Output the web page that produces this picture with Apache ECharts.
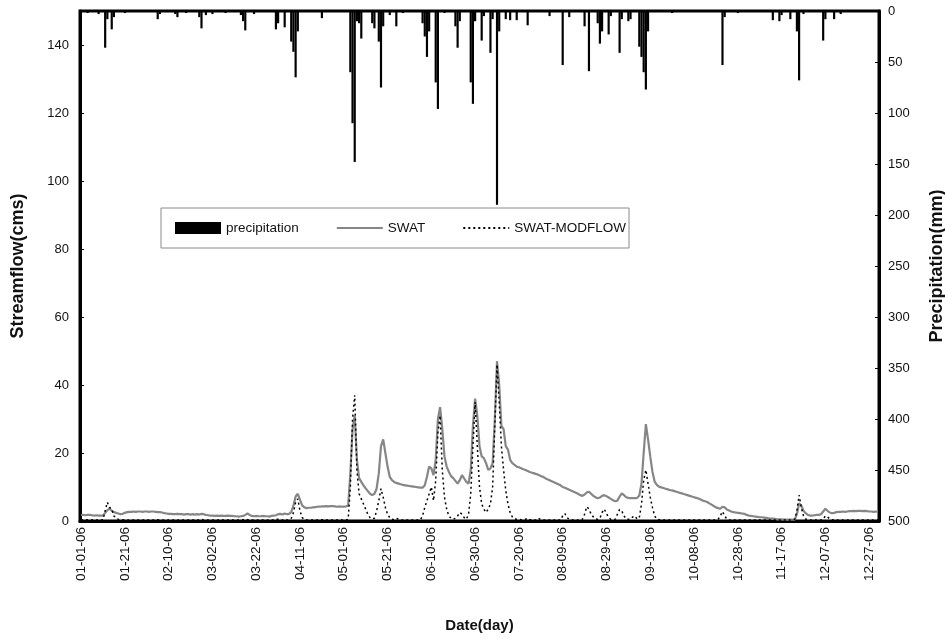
<!DOCTYPE html>
<html>
<head>
<meta charset="utf-8">
<script src="https://cdn.jsdelivr.net/npm/echarts@6/dist/echarts.min.js"></script>
<style>
html,body{margin:0;padding:0;background:#fff;overflow:hidden;}
#chart{width:945px;height:639px;}
</style>
</head>
<body>
<div id="chart"></div>
<script>
// Year 2006, daily values (day index 0 = 01-01-06)
const year = 2006;
const tickEvery = 20;

// Precipitation events [dayIndex, mm]; all other days read as 0
const precipEvents = [
  [3,2],[8,3],[11,36],[12,8],[14,18],[15,6],[20,2],[35,8],[36,3],[43,3],[44,6],[48,2],
  [54,6],[55,17],[57,4],[60,3],[66,2],[73,4],[74,10],[75,19],[79,3],[89,18],[90,12],
  [93,16],[96,30],[97,40],[98,65],[99,20],[110,7],[123,60],[124,110],[125,148],[126,10],
  [127,12],[128,27],[133,12],[134,17],[136,30],[137,75],[138,15],[141,4],[144,15],[147,2],
  [156,12],[157,25],[158,45],[159,20],[162,70],[163,96],[166,2],[171,15],[172,36],[173,10],
  [178,70],[179,91],[180,10],[183,29],[184,5],[187,41],[188,8],[190,190],[191,20],[194,8],
  [196,9],[199,9],[204,14],[214,5],[220,53],[223,6],[230,15],[232,59],[236,12],[237,32],
  [238,20],[241,23],[242,5],[246,41],[247,8],[250,10],[251,8],[255,35],[256,45],[257,60],
  [258,77],[259,20],[270,2],[293,53],[294,6],[300,2],[316,9],[319,10],[320,4],[324,8],
  [327,20],[328,68],[330,3],[339,29],[340,8],[344,8],[347,3]
];

// SWAT simulated streamflow (cms)
const swat = [
  1.8,1.8,1.7,1.8,1.8,1.7,1.6,1.7,1.6,1.6,
  1.6,2.4,3.2,3.6,3.0,2.6,2.4,2.2,2.0,2.1,
  2.4,2.6,2.7,2.7,2.8,2.7,2.8,2.8,2.7,2.8,
  2.8,2.7,2.8,2.8,2.7,2.6,2.6,2.5,2.3,2.2,
  2.1,2.1,2.0,2.0,2.1,2.0,2.0,1.9,2.0,2.0,
  1.9,2.0,1.9,2.0,1.9,2.1,2.0,1.8,1.7,1.6,
  1.6,1.5,1.6,1.5,1.6,1.5,1.5,1.6,1.5,1.5,
  1.4,1.4,1.3,1.4,1.5,1.8,2.2,1.8,1.5,1.4,
  1.5,1.4,1.4,1.5,1.4,1.4,1.3,1.5,1.6,1.7,
  2.0,2.1,1.9,2.2,2.0,2.1,2.6,4.5,7.2,8.0,
  6.2,4.6,4.0,3.8,3.9,3.9,4.0,4.1,4.2,4.2,
  4.3,4.3,4.4,4.3,4.4,4.4,4.3,4.2,4.3,4.2,
  4.2,4.3,4.5,14,27,31,18,12.6,11.5,10.5,
  9.6,8.8,8.0,7.6,8.0,9.5,14,22,24,20,
  16,13,12,11.5,11.2,11,10.8,10.6,10.5,10.4,
  10.3,10.2,10.1,10.0,9.9,9.8,9.8,10.5,13,16,
  15.5,13.5,18,30,33.5,27,19,16,14.5,13.2,
  12.6,11.8,11,12,13.5,12.5,11.5,11,15,28,
  36,31,22,19,18.5,17,15,15.5,17,30,
  47,40,28,27,22,21,18,17,16.5,16,
  15.8,15.5,15.2,15,14.7,14.4,14.2,14,13.8,13.5,
  13.2,13,12.6,12.3,12,11.7,11.4,11.1,10.8,10.5,
  10.0,9.8,9.5,9.2,8.9,8.6,8.3,8.0,7.6,7.4,
  7.8,8.4,8.6,8.0,7.4,7.0,6.7,6.9,7.4,7.6,
  7.3,6.9,6.5,6.1,5.8,6.0,7.2,8.1,7.6,7.0,
  6.8,6.7,6.7,6.7,6.8,7.5,11,20,28.5,24,
  19,14.5,11.6,10.6,10.1,9.9,9.7,9.5,9.3,9.1,
  9,8.8,8.6,8.4,8.2,8,7.8,7.6,7.4,7.2,
  7.0,6.8,6.6,6.3,6.0,5.8,5.6,5.2,4.8,4.4,
  4.0,3.8,3.6,4.2,4.0,3.4,3.1,2.8,2.6,2.5,
  2.4,2.3,2.2,2.1,1.8,1.6,1.5,1.4,1.3,1.2,
  1.1,1.1,1.0,0.9,0.8,0.7,0.7,0.6,0.5,0.5,
  0.5,0.4,0.4,0.4,0.4,0.4,0.4,2.0,5.2,4.5,
  3.0,2.3,1.8,1.6,1.6,1.7,1.8,1.8,2.0,2.8,
  3.6,3.0,2.5,2.3,2.4,2.6,2.7,2.7,2.8,2.7,
  2.8,2.9,2.9,3.0,2.9,3.0,3.0,2.9,3.0,2.9,
  2.8,2.8,2.7,2.8,2.7
];

// SWAT-MODFLOW simulated streamflow (cms)
const swatModflow = [
  0.4,0.4,0.3,0.4,0.3,0.3,0.4,0.3,0.3,0.3,
  0.4,3.0,5.5,4.0,3.5,1.5,0.8,0.5,0.4,0.4,
  0.4,0.3,0.3,0.3,0.3,0.3,0.3,0.3,0.3,0.3,
  0.3,0.3,0.3,0.3,0.3,0.4,0.3,0.3,0.3,0.3,
  0.3,0.3,0.3,0.3,0.3,0.3,0.3,0.3,0.3,0.3,
  0.3,0.3,0.3,0.3,0.3,0.5,0.3,0.3,0.3,0.3,
  0.3,0.3,0.3,0.3,0.3,0.3,0.3,0.3,0.3,0.3,
  0.3,0.3,0.3,0.3,0.4,0.6,0.4,0.3,0.3,0.3,
  0.3,0.3,0.3,0.3,0.3,0.3,0.3,0.3,0.3,0.5,
  0.5,0.3,0.3,0.5,0.3,0.3,0.8,2.5,5.5,6.5,
  3.0,1.0,0.5,0.3,0.3,0.3,0.3,0.3,0.3,0.3,
  0.4,0.3,0.3,0.3,0.3,0.3,0.3,0.3,0.3,0.3,
  0.3,0.3,0.5,10,30,37,15,8,6.5,5,
  3.5,2,1,0.6,0.8,3,6,9.5,7,4,
  2,1,0.5,0.4,0.8,0.5,0.3,0.3,0.3,0.3,
  0.3,0.3,0.3,0.3,0.3,0.3,1.5,4,6,8,
  10,6,12,26,31,15,7,3.5,1.5,0.8,
  0.5,0.8,1.5,2.5,2,1,0.5,2,8,22,
  35,22,10,5,3.5,2.5,3.5,5,10,28,
  46,35,22,15,9,5,2.5,1.2,0.6,0.5,
  0.5,0.4,0.4,0.5,0.8,0.4,0.3,0.3,0.3,0.8,
  0.4,0.3,0.3,0.3,0.3,0.3,0.3,0.3,0.3,0.3,
  1.5,2.2,1,0.5,0.4,0.3,0.3,0.3,0.3,0.5,
  2,4.2,3.5,2,1.2,0.6,0.5,0.8,2.5,3.5,
  2.2,1,0.5,0.4,0.5,2,3.4,3,1.5,0.6,
  0.5,0.6,1.2,1.5,0.6,1,5,12,15,11,
  7,4,1.5,0.6,0.4,0.3,0.3,0.3,0.3,0.3,
  0.3,0.3,0.3,0.3,0.3,0.3,0.3,0.3,0.3,0.3,
  0.3,0.3,0.3,0.3,0.3,0.3,0.3,0.3,0.3,0.3,
  0.3,0.5,1.5,2.8,1.5,0.5,0.3,0.3,0.3,0.3,
  0.3,0.3,0.3,0.3,0.3,0.3,0.3,0.3,0.3,0.3,
  0.3,0.3,0.3,0.3,0.3,0.3,0.3,0.3,0.3,0.3,
  0.3,0.3,0.3,0.3,0.3,0.3,0.5,3,7.6,4,
  1.5,0.6,0.4,0.3,0.3,0.3,0.3,0.3,0.3,0.5,
  1.5,1.2,0.6,0.4,0.3,0.3,0.3,0.3,0.3,0.3,
  0.3,0.3,0.3,0.3,0.3,0.3,0.3,0.3,0.3,0.3,
  0.3,0.3,0.3,0.3,0.3
];

// Build date categories (MM-DD-YY)
const categories = [];
for (let i = 0; i < swat.length; i++) {
  const d = new Date(Date.UTC(year, 0, 1 + i));
  const mm = String(d.getUTCMonth() + 1).padStart(2, '0');
  const dd = String(d.getUTCDate()).padStart(2, '0');
  categories.push(mm + '-' + dd + '-' + String(year).slice(2));
}
const precip = categories.map(() => 0);
precipEvents.forEach(([d, v]) => { precip[d] = v; });

const FONT = '"Liberation Sans", Arial, Helvetica, sans-serif';
const hidden = {color: 'rgba(0,0,0,0)', borderColor: 'rgba(0,0,0,0)', borderWidth: 0, opacity: 0};
const chart = echarts.init(document.getElementById('chart'), null, {renderer: 'canvas'});
chart.setOption({
  animation: false,
  backgroundColor: '#fff',
  textStyle: {fontFamily: FONT, color: '#111'},
  grid: {
    left: 80, right: 66, top: 11, bottom: 118,
    containLabel: false, outerBoundsMode: 'none',
    show: true, borderColor: '#000', borderWidth: 3
  },
  legend: {
    left: 161, top: 208,
    padding: [13, 3, 13, 14],
    borderColor: '#8a8a8a', borderWidth: 1,
    itemGap: 37, itemWidth: 46, itemHeight: 12,
    textStyle: {fontSize: 13.5, fontFamily: FONT, color: '#111'},
    data: [
      {name: 'precipitation', icon: 'rect'},
      {name: 'SWAT', itemStyle: hidden},
      {name: 'SWAT-MODFLOW', itemStyle: hidden}
    ]
  },
  xAxis: {
    type: 'category',
    data: categories,
    boundaryGap: true,
    name: 'Date(day)',
    nameLocation: 'middle',
    nameGap: 97,
    nameTextStyle: {fontSize: 15, fontWeight: 'bold', fontFamily: FONT, color: '#111'},
    axisLine: {lineStyle: {color: '#000', width: 3}},
    axisTick: {show: false},
    axisLabel: {interval: tickEvery - 1, rotate: 90, fontSize: 13.5, color: '#111', margin: 6, fontFamily: FONT},
    splitLine: {show: false}
  },
  yAxis: [
    {
      type: 'value', min: 0, max: 150, interval: 20, position: 'left',
      name: 'Streamflow(cms)', nameLocation: 'middle', nameGap: 53,
      nameTextStyle: {fontSize: 18, fontWeight: 'bold', fontFamily: FONT, color: '#111'},
      axisLine: {show: true, lineStyle: {color: '#000', width: 3}},
      axisTick: {show: true, inside: true, length: 4, lineStyle: {color: '#000'}},
      axisLabel: {fontSize: 13, color: '#111', margin: 11, showMaxLabel: false, fontFamily: FONT},
      splitLine: {show: false}
    },
    {
      type: 'value', min: 0, max: 500, interval: 50, position: 'right', inverse: true,
      name: 'Precipitation(mm)', nameLocation: 'middle', nameGap: 49,
      nameTextStyle: {fontSize: 18, fontWeight: 'bold', fontFamily: FONT, color: '#111'},
      axisLine: {show: true, lineStyle: {color: '#000', width: 3}},
      axisTick: {show: true, inside: true, length: 4, lineStyle: {color: '#000'}},
      axisLabel: {fontSize: 13, color: '#111', margin: 9, fontFamily: FONT},
      splitLine: {show: false}
    }
  ],
  series: [
    {
      name: 'precipitation', type: 'bar', yAxisIndex: 1,
      data: precip, barCategoryGap: '0%', barGap: '0%',
      itemStyle: {color: '#000'}
    },
    {
      name: 'SWAT', type: 'line', yAxisIndex: 0, data: swat,
      symbol: 'none', lineStyle: {color: '#868686', width: 2.2},
      itemStyle: {color: '#868686'}
    },
    {
      name: 'SWAT-MODFLOW', type: 'line', yAxisIndex: 0, data: swatModflow,
      symbol: 'none', lineStyle: {color: '#000', width: 1.5, type: [2, 3]},
      itemStyle: {color: '#000'}
    }
  ]
});
</script>
</body>
</html>
